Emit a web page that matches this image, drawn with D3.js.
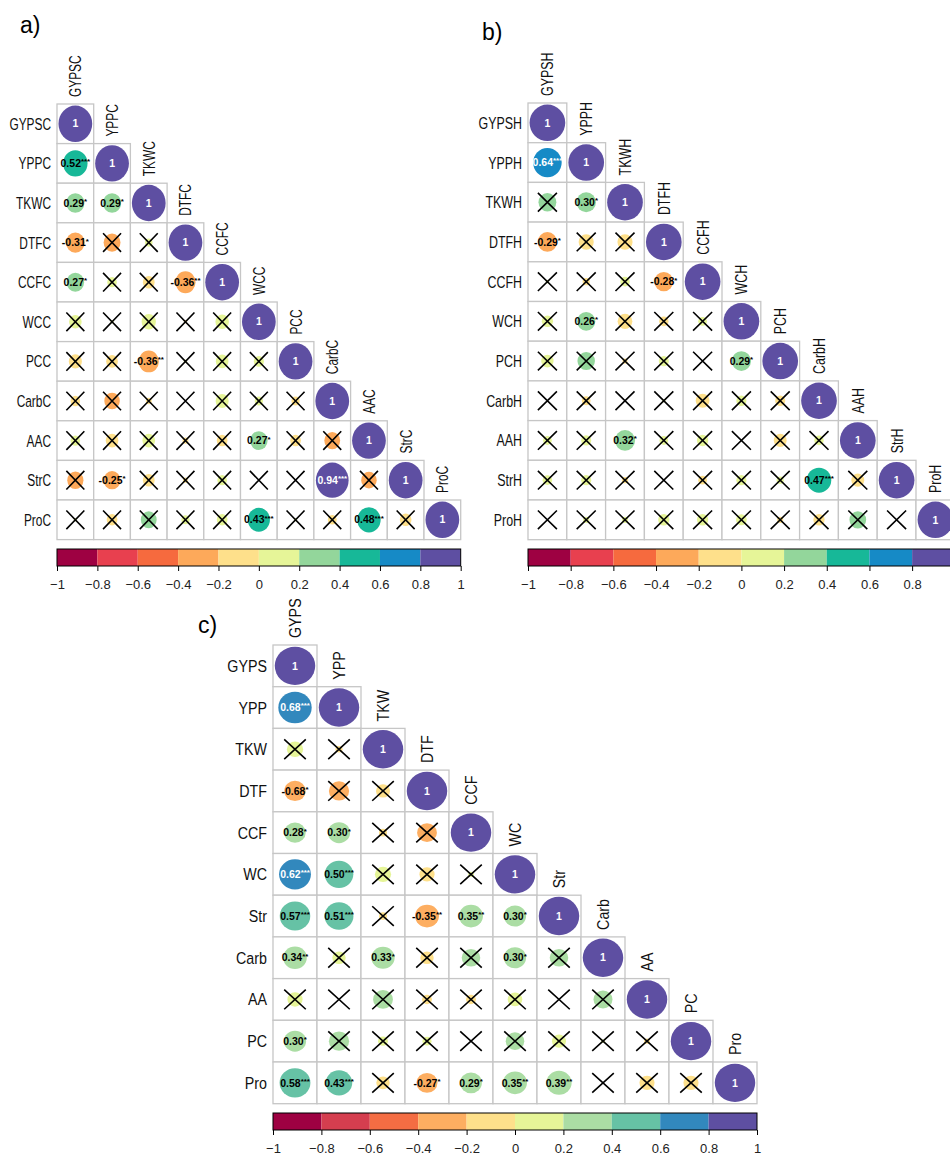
<!DOCTYPE html>
<html>
<head>
<meta charset="utf-8">
<script src="https://cdn.jsdelivr.net/npm/d3@7"></script>
<style>
  body { margin: 0; background: #fff; }
  svg { display: block; font-family: "Liberation Sans", Arial, sans-serif; }
</style>
</head>
<body>
<svg id="chart"></svg>
<script>
// ---- data (lower triangle, row by row) ----
const varsA = ['GYPSC', 'YPPC', 'TKWC', 'DTFC', 'CCFC', 'WCC', 'PCC', 'CarbC', 'AAC', 'StrC', 'ProC'];
const corrA = [
  [1],
  [0.52, 1],
  [0.29, 0.29, 1],
  [-0.31, -0.25, 0.05, 1],
  [0.27, 0.08, -0.12, -0.36, 1],
  [0.14, 0.01, 0.18, -0.01, 0.16, 1],
  [-0.15, -0.12, -0.36, 0.01, 0.14, 0.09, 1],
  [-0.08, -0.21, -0.03, 0.0, 0.15, 0.06, -0.06, 1],
  [0.08, -0.14, 0.14, -0.03, -0.1, 0.27, -0.1, -0.22, 1],
  [-0.23, -0.25, -0.12, -0.02, 0.08, 0.0, 0.0, 0.94, -0.21, 1],
  [0.01, -0.1, 0.22, 0.06, 0.1, 0.43, 0.01, -0.07, 0.48, -0.12, 1]
];
// [row, col, stars]
const sigA = [[1, 0, '***'], [2, 0, '*'], [2, 1, '*'], [3, 0, '*'], [4, 0, '*'], [4, 3, '**'],
  [6, 2, '**'], [8, 5, '*'], [9, 1, '*'], [9, 7, '***'], [10, 5, '***'], [10, 8, '***']];

const varsB = ['GYPSH', 'YPPH', 'TKWH', 'DTFH', 'CCFH', 'WCH', 'PCH', 'CarbH', 'AAH', 'StrH', 'ProH'];
const corrB = [
  [1],
  [0.64, 1],
  [0.25, 0.30, 1],
  [-0.29, -0.18, -0.18, 1],
  [0.01, -0.04, 0.07, -0.28, 1],
  [0.1, 0.26, -0.17, -0.07, 0.06, 1],
  [0.12, 0.24, -0.02, 0.08, 0.0, 0.29, 1],
  [0.0, -0.06, 0.0, 0.01, -0.15, 0.08, -0.08, 1],
  [0.06, 0.08, 0.32, 0.06, 0.1, 0.0, -0.13, 0.07, 1],
  [0.07, 0.08, -0.03, 0.0, -0.06, 0.08, 0.04, 0.47, -0.13, 1],
  [0.0, 0.03, 0.03, 0.1, 0.1, 0.09, -0.03, -0.1, 0.22, 0.0, 1]
];
const sigB = [[1, 0, '***'], [2, 1, '*'], [3, 0, '*'], [4, 3, '*'], [5, 1, '*'], [6, 5, '*'],
  [8, 2, '*'], [9, 7, '***']];

const varsC = ['GYPS', 'YPP', 'TKW', 'DTF', 'CCF', 'WC', 'Str', 'Carb', 'AA', 'PC', 'Pro'];
const corrC = [
  [1],
  [0.68, 1],
  [0.16, -0.03, 1],
  [-0.28, -0.25, -0.12, 1],
  [0.28, 0.30, -0.04, -0.24, 1],
  [0.62, 0.50, 0.16, -0.14, 0.02, 1],
  [0.57, 0.51, -0.04, -0.35, 0.35, 0.30, 1],
  [0.34, 0.11, 0.33, -0.11, 0.21, 0.30, 0.21, 1],
  [0.14, 0.0, 0.24, -0.06, -0.06, 0.13, 0.0, 0.22, 1],
  [0.30, 0.25, 0.06, 0.05, 0.0, 0.21, 0.12, 0.01, -0.02, 1],
  [0.58, 0.43, -0.11, -0.27, 0.29, 0.35, 0.39, 0.0, -0.14, -0.14, 1]
];
// 4th item: value printed in the figure when it differs from the drawn circle
const sigC = [[1, 0, '***'], [3, 0, '*', -0.68], [4, 0, '*'], [4, 1, '*'], [5, 0, '***'], [5, 1, '***'],
  [6, 0, '***'], [6, 1, '***'], [6, 3, '**'], [6, 4, '**'], [6, 5, '*'],
  [7, 0, '**'], [7, 2, '*'], [7, 5, '*'], [9, 0, '*'],
  [10, 0, '***'], [10, 1, '***'], [10, 3, '*'], [10, 4, '*'], [10, 5, '**'], [10, 6, '**']];

const legendTicks = [-1, -0.8, -0.6, -0.4, -0.2, 0, 0.2, 0.4, 0.6, 0.8, 1];
const paletteAB = ['#9E0142', '#E8404F', '#F66A3E', '#FDA95A', '#FEE08B', '#E6F598', '#93D69B', '#17B898', '#168AC6', '#5E4FA2'];
const paletteC = ['#9E0142', '#D53E4F', '#F46D43', '#FDAE61', '#FEE08B', '#E6F598', '#ABDDA4', '#66C2A5', '#3288BD', '#5E4FA2'];

const svg = d3.select('#chart').attr('width', 950).attr('height', 1153);
svg.append('rect').attr('width', 950).attr('height', 1153).attr('fill', '#fff');

function drawPanel(p) {
  const n = p.vars.length;
  const x = d3.scaleBand().domain(p.vars).range([p.x0, p.x0 + n * p.cw]);
  const y = d3.scaleBand().domain(p.vars).range([p.y0, p.y0 + n * p.ch]);
  const color = d3.scaleQuantize().domain([-1, 1]).range(p.palette);
  const size = d3.scaleSqrt().domain([0, 1]).range([0, 0.46]);

  const cells = [];
  p.corr.forEach((row, i) => row.forEach((v, j) => {
    const s = p.sig.find(d => d[0] === i && d[1] === j);
    cells.push({
      row: p.vars[i], col: p.vars[j], v, diag: i === j,
      stars: s ? s[2] : null,
      shown: s && s[3] !== undefined ? s[3] : v
    });
  }));

  const g = svg.append('g');
  const cx = d => x(d.col) + p.cw / 2;
  const cy = d => y(d.row) + p.ch / 2;

  g.selectAll('rect.cell').data(cells).join('rect')
    .attr('class', 'cell')
    .attr('x', d => x(d.col)).attr('y', d => y(d.row))
    .attr('width', p.cw).attr('height', p.ch)
    .attr('fill', '#fff').attr('stroke', '#c6c6c6').attr('stroke-width', 1.3);

  g.selectAll('ellipse').data(cells).join('ellipse')
    .attr('cx', cx).attr('cy', cy)
    .attr('rx', d => size(Math.abs(d.v)) * p.cw)
    .attr('ry', d => size(Math.abs(d.v)) * p.ch)
    .attr('fill', d => color(d.v));

  // non significant -> cross
  const hx = 0.245 * p.cw, hy = 0.235 * p.ch;
  g.selectAll('path.cross').data(cells.filter(d => !d.diag && !d.stars)).join('path')
    .attr('class', 'cross')
    .attr('d', d => `M${cx(d) - hx},${cy(d) - hy}L${cx(d) + hx},${cy(d) + hy}M${cx(d) - hx},${cy(d) + hy}L${cx(d) + hx},${cy(d) - hy}`)
    .attr('stroke', '#000').attr('stroke-width', 1.6).attr('fill', 'none');

  const lab = g.selectAll('text.val').data(cells.filter(d => d.diag || d.stars)).join('text')
    .attr('class', 'val')
    .attr('x', cx).attr('y', cy).attr('dy', '0.35em')
    .attr('text-anchor', 'middle')
    .attr('font-weight', 'bold')
    .attr('font-size', p.fs)
    .attr('fill', d => (d.diag || d.v >= 0.6) ? '#fff' : '#000');
  lab.append('tspan').text(d => d.diag ? '1' : d.shown.toFixed(2));
  lab.filter(d => !d.diag).append('tspan')
    .attr('font-size', p.fs * 0.75).attr('dy', '-0.35em')
    .text(d => d.stars);

  // row labels
  g.selectAll('text.rowlab').data(p.vars).join('text')
    .attr('class', 'rowlab')
    .attr('transform', d => `translate(${p.x0 - 6},${y(d) + p.ch / 2}) scale(${p.sx},1)`)
    .attr('text-anchor', 'end').attr('dy', '0.35em')
    .attr('font-size', 17).attr('fill', '#111')
    .text(d => d);

  // column labels, above the diagonal
  g.selectAll('text.collab').data(p.vars).join('text')
    .attr('class', 'collab')
    .attr('transform', d => `translate(${x(d) + p.cw / 2},${y(d) - 7}) rotate(-90) scale(${p.sx},1)`)
    .attr('text-anchor', 'start').attr('dy', '0.35em')
    .attr('font-size', 17).attr('fill', '#111')
    .text(d => d);

  // colour legend
  const lx = d3.scaleLinear().domain([-1, 1]).range([p.x0, p.x0 + n * p.cw]);
  const bins = p.palette.map((c, k) => ({ c, lo: legendTicks[k], hi: legendTicks[k + 1] }));
  const leg = g.append('g').attr('transform', `translate(0,${p.ly})`);
  leg.selectAll('rect').data(bins).join('rect')
    .attr('x', d => lx(d.lo)).attr('width', d => lx(d.hi) - lx(d.lo))
    .attr('height', p.lh).attr('fill', d => d.c);
  leg.append('rect')
    .attr('x', lx(-1)).attr('width', lx(1) - lx(-1)).attr('height', p.lh)
    .attr('fill', 'none').attr('stroke', '#000').attr('stroke-width', 1);
  const ax = leg.append('g').attr('transform', `translate(0,${p.lh})`)
    .call(d3.axisBottom(lx).tickValues(legendTicks).tickSize(5).tickPadding(9).tickFormat(d3.format('~g')));
  ax.select('.domain').remove();
  ax.selectAll('text').attr('font-size', 13).attr('font-family', '"Liberation Sans", Arial, sans-serif').attr('fill', '#222');

  svg.append('text')
    .attr('x', p.tx).attr('y', p.ty)
    .attr('font-size', 23).attr('fill', '#000')
    .text(p.title);
}

drawPanel({ vars: varsA, corr: corrA, sig: sigA, palette: paletteAB, x0: 57, y0: 104, cw: 36.7, ch: 39.6,
  sx: 0.70, fs: 10.5, ly: 549, lh: 17, title: 'a)', tx: 20, ty: 33 });
drawPanel({ vars: varsB, corr: corrB, sig: sigB, palette: paletteAB, x0: 528, y0: 103, cw: 38.8, ch: 39.7,
  sx: 0.73, fs: 10.5, ly: 549, lh: 17, title: 'b)', tx: 482, ty: 40 });
drawPanel({ vars: varsC, corr: corrC, sig: sigC, palette: paletteC, x0: 273, y0: 645, cw: 44, ch: 41.7,
  sx: 0.84, fs: 10.5, ly: 1113, lh: 17, title: 'c)', tx: 198, ty: 633 });
</script>
</body>
</html>
